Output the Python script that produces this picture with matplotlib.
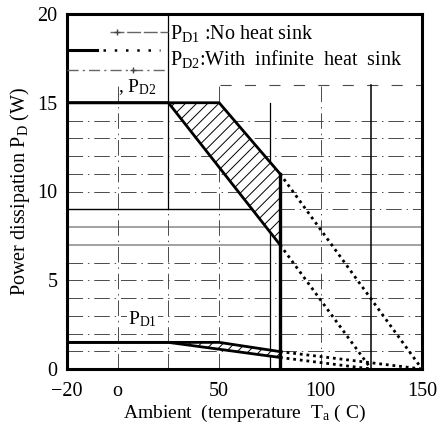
import matplotlib
matplotlib.use('Agg')
import matplotlib.pyplot as plt

plt.rcParams['font.family'] = ['Liberation Serif', 'DejaVu Serif']
plt.rcParams['mathtext.fontset'] = 'custom'
plt.rcParams['mathtext.rm'] = 'Liberation Serif'
plt.rcParams['mathtext.it'] = 'Liberation Serif:italic'
plt.rcParams['hatch.linewidth'] = 0.7

# ---------------- data ----------------
x_ticks = [-25, 0, 50, 100, 150]
x_tick_labels = ['\u221220', 'o', '50', '100', '150']
y_ticks = [0, 5, 10, 15, 20]
y_tick_labels = ['0', '5', '10', '15', '20']

# P_D2 : with infinite heat sink (band)
pd2_upper_T = [-25, 50, 80]
pd2_upper_P = [15, 15, 11]
pd2_lower_T = [-25, 25, 80]
pd2_lower_P = [15, 15, 7]
pd2_upper_ext_T = [80, 150]
pd2_upper_ext_P = [11, 0]
pd2_lower_ext_T = [80, 125]
pd2_lower_ext_P = [7, 0]

# P_D1 : no heat sink (band)
pd1_upper_T = [-25, 50, 80]
pd1_upper_P = [1.5, 1.5, 0.98]
pd1_lower_T = [-25, 25, 80]
pd1_lower_P = [1.5, 1.5, 0.65]
pd1_upper_ext_T = [80, 150]
pd1_upper_ext_P = [0.98, 0]
pd1_lower_ext_T = [80, 125]
pd1_lower_ext_P = [0.65, 0]

# limit lines
limit_T = [80, 80]
limit_P = [0, 11]
limit2_T = [125, 125]
limit2_P = [0, 16]

# grid levels
grid_T = [0, 25, 50, 75, 100]
grid_P = [1, 2, 3, 4, 5, 6, 7, 8, 9, 10, 11, 12, 13, 14, 16]

# ---------------- figure ----------------
fig = plt.figure(figsize=(4.37, 4.29), dpi=100)
ax = fig.add_axes([67 / 437, 1 - 369 / 429, 355 / 437, 355 / 429])
ax.set_xlim(-25, 150)
ax.set_ylim(0, 20)

dashdot = (0, (16, 5, 1.5, 5))
gcol = '#4a4a4a'
gray_solid = {7, 8}
for p in grid_P:
    if p in gray_solid:
        ax.axhline(p, color='#9a9a9a', lw=1.3, zorder=1)
    elif p == 9:
        ax.axhline(p, xmax=0.52, color='black', lw=1.0, zorder=1)
        ax.axhline(p, xmin=0.52, color=gcol, lw=0.7, ls=dashdot, zorder=1)
    elif p == 16:
        ax.axhline(p, xmin=0.43, color=gcol, lw=0.8, ls=(0, (10, 12)), zorder=1)
    else:
        ax.axhline(p, color=gcol, lw=0.7, ls=dashdot, zorder=1)

for t in grid_T:
    if t == 75:
        ax.plot([t, t], [0, 15], color='black', lw=0.9, zorder=1)
    elif t == 25:
        ax.plot([t, t], [9, 20], color='black', lw=0.9, zorder=1)
        ax.plot([t, t], [0, 9], color=gcol, lw=0.7, ls=dashdot, zorder=1)
    else:
        ax.plot([t, t], [0, 16], color=gcol, lw=0.7, ls=dashdot, zorder=1)

ax.plot(limit2_T, limit2_P, color='black', lw=1.1, zorder=2)

# hatched bands
def band(ax, uT, uP, lT, lP):
    verts = list(zip(uT, uP)) + list(zip(lT, lP))[::-1]
    xs = [v[0] for v in verts]
    ys = [v[1] for v in verts]
    ax.fill(xs, ys, facecolor='white', edgecolor='black', hatch='///', lw=0, zorder=2)

band(ax, pd2_upper_T, pd2_upper_P, pd2_lower_T, pd2_lower_P)
band(ax, pd1_upper_T, pd1_upper_P, pd1_lower_T, pd1_lower_P)

for T, P in [(pd2_upper_T, pd2_upper_P), (pd2_lower_T, pd2_lower_P),
             (pd1_upper_T, pd1_upper_P), (pd1_lower_T, pd1_lower_P)]:
    ax.plot(T, P, color='black', lw=2.0, zorder=4, solid_capstyle='butt')

for T, P in [(pd2_upper_ext_T, pd2_upper_ext_P), (pd2_lower_ext_T, pd2_lower_ext_P),
             (pd1_upper_ext_T, pd1_upper_ext_P), (pd1_lower_ext_T, pd1_lower_ext_P)]:
    ax.plot(T, P, color='black', lw=2.0, ls=(0, (1, 1.4)), zorder=4)

ax.plot(limit_T, limit_P, color='black', lw=2.4, zorder=4)

# legend (drawn manually)
tr = ax.transAxes
ax.plot([0.121, 0.285], [0.949, 0.949], color='#666666', lw=1.0, ls=(0, (10, 2)), transform=tr, zorder=3)
ax.plot([0.142], [0.949], marker='+', ms=5, color='#444444', transform=tr, zorder=3)
ax.plot([0.0, 0.085], [0.899, 0.899], color='black', lw=2.2, transform=tr, zorder=3)
ax.plot([0.10, 0.262], [0.899, 0.899], color='black', lw=1.8, ls=(0, (1, 3.5)), transform=tr, zorder=3)
ax.plot([0.0, 0.28], [0.843, 0.843], color='#666666', lw=1.0, ls=(0, (8, 3, 1.5, 3)), transform=tr, zorder=3)
ax.plot([0.186], [0.843], marker='+', ms=5, color='#444444', transform=tr, zorder=3)
ax.text(0.29, 0.930, r'P$_{\rm D1}$ :No heat sink', transform=tr, fontsize=14.5,
        ha='left', va='baseline', zorder=5)
ax.text(0.29, 0.856, r'P$_{\rm D2}$:With  infinite  heat  sink', transform=tr, fontsize=14.5,
        ha='left', va='baseline', zorder=5)

# curve labels
ax.text(0.0, 15.6, r', P$_{\rm D2}$', fontsize=14, ha='left', va='baseline', zorder=5)
ax.text(5.0, 2.5, r'P$_{\rm D1}$', fontsize=14, ha='left', va='baseline', zorder=5,
        bbox=dict(facecolor='white', edgecolor='none', pad=0.5))

# axes styling
for s in ax.spines.values():
    s.set_linewidth(2.2)
ax.set_xticks(x_ticks, x_tick_labels)
ax.set_yticks(y_ticks, y_tick_labels)
ax.tick_params(length=0, labelsize=14.5)
ax.tick_params(axis='x', pad=9)
ax.tick_params(axis='y', pad=7)
ax.set_xlabel(r'Ambient  (temperature  T$_{\rm a}$ ( C)', fontsize=14, labelpad=2)
ax.set_ylabel(r'Power dissipation P$_{\rm D}$ (W)', fontsize=14.5, labelpad=4)

fig.savefig('out.png', dpi=100)
